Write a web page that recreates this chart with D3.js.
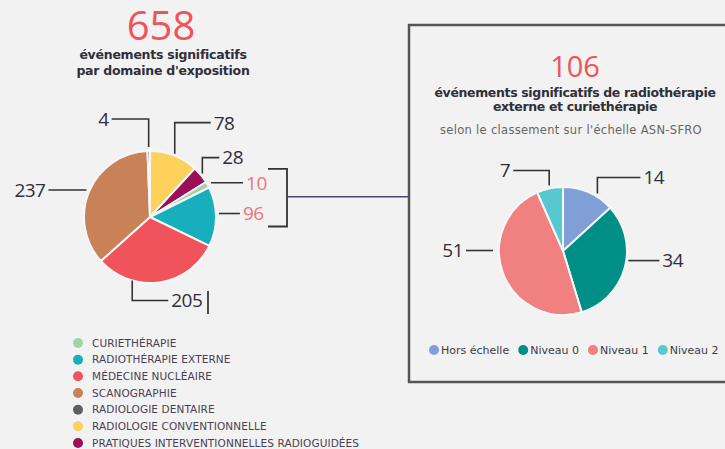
<!DOCTYPE html>
<html>
<head>
<meta charset="utf-8">
<script src="https://cdn.jsdelivr.net/npm/d3@7"></script>
<style>
  body { margin: 0; background: #f2f2f2; }
  svg { display: block; font-family: "Open Sans", sans-serif; }
  .wide { font-family: "DejaVu Sans", sans-serif; }
</style>
</head>
<body>
<svg id="chart" width="725" height="449"></svg>
<script>
// domaines d'exposition (ordre des parts, sens horaire depuis midi)
let domaines = ['Radiologie conventionnelle', 'Pratiques interventionnelles radioguidées', 'Curiethérapie',
  'Radiothérapie externe', 'Médecine nucléaire', 'Scanographie', 'Radiologie dentaire']
let domaineValeurs = [78, 28, 10, 96, 205, 237, 4]
let domaineCouleurs = ['#fdd15b', '#9b0f57', '#9fd4a9', '#16afbb', '#f0545a', '#c98158', '#5f5f5f']
// ordre de la légende de gauche
let legendeDomaines = ['Curiethérapie', 'Radiothérapie externe', 'Médecine nucléaire', 'Scanographie',
  'Radiologie dentaire', 'Radiologie conventionnelle', 'Pratiques interventionnelles radioguidées']

// classement ASN-SFRO
let niveaux = ['Hors échelle', 'Niveau 0', 'Niveau 1', 'Niveau 2']
let niveauValeurs = [14, 34, 51, 7]
let niveauCouleurs = ['#7f9fd6', '#008f87', '#f18080', '#58c8d0']

let total1 = d3.sum(domaineValeurs)
let total2 = d3.sum(niveauValeurs)

let svg = d3.select('#chart')
let ink = '#2f2f3a'

// ---- titres
let t1 = svg.append('g').attr('text-anchor', 'middle')
t1.append('text').attr('x', 161).attr('y', 40)
  .attr('font-size', 40).attr('fill', '#f0545a').text(total1)
t1.append('text').attr('class', 'wide').attr('x', 163).attr('y', 59)
  .attr('font-size', 12.5).attr('font-weight', 700).attr('fill', ink).attr('letter-spacing', -0.25)
  .text('événements significatifs')
t1.append('text').attr('class', 'wide').attr('x', 163).attr('y', 75)
  .attr('font-size', 12.5).attr('font-weight', 700).attr('fill', ink).attr('letter-spacing', -0.25)
  .text("par domaine d'exposition")

// cadre de droite
svg.append('rect').attr('x', 409).attr('y', 25).attr('width', 340).attr('height', 357)
  .attr('fill', 'none').attr('stroke', '#555').attr('stroke-width', 2.5)

let t2 = svg.append('g').attr('text-anchor', 'middle')
t2.append('text').attr('x', 575).attr('y', 77)
  .attr('font-size', 29).attr('fill', '#f0545a').text(total2)
t2.append('text').attr('class', 'wide').attr('x', 575).attr('y', 97)
  .attr('font-size', 12.5).attr('font-weight', 700).attr('fill', ink).attr('letter-spacing', -0.35)
  .text('événements significatifs de radiothérapie')
t2.append('text').attr('class', 'wide').attr('x', 575).attr('y', 111)
  .attr('font-size', 12.5).attr('font-weight', 700).attr('fill', ink).attr('letter-spacing', -0.35)
  .text('externe et curiethérapie')
t2.append('text').attr('class', 'wide').attr('x', 571).attr('y', 134)
  .attr('font-size', 11.5).attr('fill', '#666').attr('letter-spacing', 0.3)
  .text("selon le classement sur l'échelle ASN-SFRO")

// ---- camemberts
function drawPie (opts) {
  let pie = d3.pie().sort(null).value(d => d)
  let arcs = pie(opts.values)
  let arc = d3.arc().innerRadius(0).outerRadius(opts.r)
  let color = d3.scaleOrdinal().domain(d3.range(opts.values.length)).range(opts.colors)

  let g = svg.append('g').attr('transform', `translate(${opts.cx}, ${opts.cy})`)
  g.selectAll('path').data(arcs).join('path')
    .attr('d', arc)
    .attr('fill', (d, i) => color(i))
    .attr('stroke', '#f7f7f7').attr('stroke-width', 2)

  // étiquettes avec filets coudés
  arcs.forEach((d, i) => {
    let lay = opts.labels[i]
    let a = d.startAngle + (d.endAngle - d.startAngle) * lay.f
    let rr = opts.r + lay.gap
    let x0 = rr * Math.sin(a)
    let y0 = -rr * Math.cos(a)
    let pts = [[x0, y0]]
    let y1 = y0 + (lay.dy || 0)
    if (lay.dy) pts.push([x0, y1])
    let x1 = x0 + lay.dx
    pts.push([x1, y1])
    g.append('path')
      .attr('d', d3.line()(pts))
      .attr('fill', 'none').attr('stroke', '#333').attr('stroke-width', 1.6)
    let right = lay.dx > 0
    g.append('text')
      .attr('x', x1 + (right ? 3 : -3)).attr('y', y1)
      .attr('dy', '0.36em')
      .attr('text-anchor', right ? 'start' : 'end')
      .attr('font-size', opts.fontSize)
      .attr('letter-spacing', -0.5)
      .attr('fill', lay.color || ink)
      .text(d.data)
    lay.pos = [opts.cx + x1, opts.cy + y1]
  })
  return g
}

let labels1 = [
  { f: 0.5, gap: 2, dy: -31, dx: 36 },
  { f: 0.5, gap: 2, dy: -16, dx: 17 },
  { f: 0.5, gap: 4, dx: 32, color: '#f2737a' },
  { f: 0.45, gap: 3, dx: 21, color: '#f2737a' },
  { f: 0.71, gap: 0, dy: 20, dx: 36 },
  { f: 0.5, gap: 3, dx: -38 },
  { f: 0.5, gap: 4, dy: -28, dx: -37 }
]
drawPie({ cx: 150, cy: 217, r: 66, values: domaineValeurs, colors: domaineCouleurs, labels: labels1, fontSize: 19 })

// trait vertical après 205
svg.append('line').attr('x1', 208).attr('x2', 208).attr('y1', 291).attr('y2', 314)
  .attr('stroke', '#222').attr('stroke-width', 1.6)

// accolade 10 + 96 et liaison vers le cadre
let bTop = labels1[2].pos[1] - 14
let bBot = labels1[3].pos[1] + 13
svg.append('path')
  .attr('d', d3.line()([[268, bTop], [287, bTop], [287, bBot], [268, bBot]]))
  .attr('fill', 'none').attr('stroke', '#333').attr('stroke-width', 1.8)
svg.append('line').attr('x1', 287).attr('x2', 409)
  .attr('y1', (bTop + bBot) / 2 - 1).attr('y2', (bTop + bBot) / 2 - 1)
  .attr('stroke', '#4a4a66').attr('stroke-width', 1.5)

let labels2 = [
  { f: 0.65, gap: 3, dy: -16, dx: 43 },
  { f: 0.44, gap: 2, dx: 31 },
  { f: 0.62, gap: 6, dx: -27 },
  { f: 0.5, gap: 3, dy: -15, dx: -36 }
]
drawPie({ cx: 563, cy: 251, r: 64, values: niveauValeurs, colors: niveauCouleurs, labels: labels2, fontSize: 19 })

// ---- légende gauche
let colorByName = d3.scaleOrdinal().domain(domaines).range(domaineCouleurs)
let leg1 = svg.append('g').attr('transform', 'translate(78, 343)')
let ly = d3.scalePoint().domain(legendeDomaines).range([0, 100])
legendeDomaines.forEach(name => {
  leg1.append('circle').attr('cx', 0).attr('cy', ly(name)).attr('r', 5).attr('fill', colorByName(name))
  leg1.append('text').attr('class', 'wide').attr('x', 14).attr('y', ly(name)).attr('dy', '0.36em')
    .attr('font-size', 10.5).attr('fill', '#4a3f55').attr('letter-spacing', 0.1)
    .text(name.toUpperCase())
})

// ---- légende droite
let leg2 = svg.append('g').attr('transform', 'translate(434, 350)')
let lx = 0
niveaux.forEach((name, i) => {
  leg2.append('circle').attr('cx', lx).attr('cy', 0).attr('r', 5).attr('fill', niveauCouleurs[i])
  let t = leg2.append('text').attr('class', 'wide').attr('x', lx + 7).attr('y', 0).attr('dy', '0.36em')
    .attr('font-size', 11).attr('fill', '#3c3c46').attr('letter-spacing', 0)
    .text(name)
  lx += 7 + t.node().getComputedTextLength() + 14
})
</script>
</body>
</html>
